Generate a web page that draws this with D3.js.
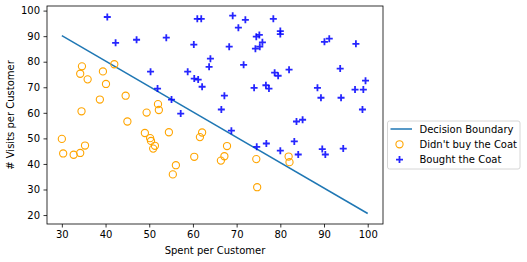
<!DOCTYPE html>
<html>
<head>
<meta charset="utf-8">
<script src="https://cdn.jsdelivr.net/npm/d3@7"></script>
<style>
  body { margin: 0; background: #fff; }
  svg { font-family: "DejaVu Sans", sans-serif; }
</style>
</head>
<body>
<svg id="chart" width="527" height="262"></svg>
<script>
// didn't buy the coat
const noSpent  = [34.6, 34.2, 35.9, 39.4, 42.0, 40.1, 38.7, 44.6, 34.5, 49.4, 52.0, 52.2,
                  45.0, 30.0, 30.3, 32.7, 34.2, 35.3, 49.0, 50.2, 50.4, 51.3, 50.9, 54.5,
                  62.1, 61.6, 67.8, 60.3, 56.1, 55.4, 67.2, 66.4, 74.5, 74.7, 81.9, 82.1];
const noVisits = [78.2, 75.3, 73.1, 76.2, 79.0, 71.3, 65.2, 66.7, 60.6, 60.1, 63.4, 61.1,
                  56.6, 49.8, 44.1, 43.6, 44.3, 47.2, 52.1, 50.1, 49.0, 47.1, 46.0, 52.4,
                  52.3, 50.5, 47.0, 42.8, 39.5, 35.9, 43.0, 41.3, 41.9, 30.9, 42.9, 40.7];

// bought the coat
const yesSpent  = [40.4, 42.3, 47.1, 50.3, 51.9, 53.9, 60.2, 58.8, 60.3, 61.2, 55.1, 57.2,
                   61.0, 61.9, 69.1, 72.0, 70.4, 68.3, 74.5, 75.2, 75.9, 74.3, 75.3, 64.0,
                   63.7, 71.6, 62.1, 67.2, 66.5, 74.0, 76.7, 77.4, 78.4, 80.0, 80.0, 90.1,
                   91.2, 97.3, 82.0, 78.7, 79.5, 93.7, 99.5, 88.5, 97.1, 99.0, 89.3, 93.9,
                   98.8, 83.7, 85.1, 83.2, 80.0, 84.1, 89.6, 90.3, 94.4, 68.8, 74.6, 76.8];
const yesVisits = [97.5, 87.4, 88.6, 76.1, 69.5, 89.4, 86.7, 76.1, 73.4, 73.0, 65.2, 59.7,
                   96.8, 96.8, 98.0, 96.4, 93.3, 85.9, 89.8, 90.5, 87.6, 85.1, 85.9, 81.2,
                   78.0, 78.8, 70.2, 66.7, 61.3, 69.8, 70.8, 69.5, 96.8, 92.0, 90.8, 87.8,
                   89.0, 87.0, 76.9, 75.7, 74.5, 77.3, 72.6, 69.8, 69.1, 69.1, 65.9, 65.9,
                   61.3, 56.6, 57.3, 48.8, 45.2, 43.7, 45.8, 43.7, 46.0, 53.0, 46.7, 48.0];

// decision boundary end points
const boundarySpent  = [30, 100];
const boundaryVisits = [90.2, 20.6];

const xTicks = [30, 40, 50, 60, 70, 80, 90, 100];
const yTicks = [20, 30, 40, 50, 60, 70, 80, 90, 100];

const svg = d3.select("#chart");
const margin = { top: 6, right: 144, bottom: 38, left: 47 };
const width = 527, height = 262;

const x = d3.scaleLinear()
  .domain([26.6, 103.5])
  .range([margin.left, width - margin.right]);

const y = d3.scaleLinear()
  .domain([16.5, 101.8])
  .range([height - margin.bottom, margin.top]);

const no = noSpent.map((s, i) => ({ s, v: noVisits[i] }));
const yes = yesSpent.map((s, i) => ({ s, v: yesVisits[i] }));
const boundary = boundarySpent.map((s, i) => ({ s, v: boundaryVisits[i] }));

const plusPath = "M-3.5,0H3.5M0,-3.5V3.5";

// axes
const xAxis = svg.append("g")
  .attr("transform", `translate(0,${height - margin.bottom})`)
  .call(d3.axisBottom(x).tickValues(xTicks).tickSize(3.5).tickPadding(3.5));

const yAxis = svg.append("g")
  .attr("transform", `translate(${margin.left},0)`)
  .call(d3.axisLeft(y).tickValues(yTicks).tickSize(3.5).tickPadding(3.5));

[xAxis, yAxis].forEach(a => {
  a.select(".domain").remove();
  a.selectAll("text").attr("font-size", "10px").attr("fill", "#000")
    .attr("font-family", "DejaVu Sans, sans-serif");
  a.selectAll("line").attr("stroke", "#000").attr("stroke-width", 0.8);
});

// decision boundary
svg.append("path")
  .datum(boundary)
  .attr("fill", "none")
  .attr("stroke", "#1f77b4")
  .attr("stroke-width", 1.5)
  .attr("d", d3.line().x(d => x(d.s)).y(d => y(d.v)));

// didn't buy
svg.append("g")
  .selectAll("circle")
  .data(no)
  .enter()
  .append("circle")
  .attr("cx", d => x(d.s))
  .attr("cy", d => y(d.v))
  .attr("r", 3.6)
  .attr("fill", "none")
  .attr("stroke", "orange")
  .attr("stroke-width", 1.1);

// bought
svg.append("g")
  .selectAll("path")
  .data(yes)
  .enter()
  .append("path")
  .attr("transform", d => `translate(${x(d.s)},${y(d.v)})`)
  .attr("d", plusPath)
  .attr("stroke", "blue")
  .attr("stroke-opacity", 0.85)
  .attr("stroke-width", 1.8);

// frame
svg.append("rect")
  .attr("x", margin.left)
  .attr("y", margin.top)
  .attr("width", width - margin.left - margin.right)
  .attr("height", height - margin.top - margin.bottom)
  .attr("fill", "none")
  .attr("stroke", "#000")
  .attr("stroke-width", 0.8);

// axis labels
svg.append("text")
  .attr("x", (margin.left + width - margin.right) / 2)
  .attr("y", 254)
  .attr("text-anchor", "middle")
  .attr("font-size", "10px")
  .text("Spent per Customer");

svg.append("text")
  .attr("transform", `translate(14,${(margin.top + height - margin.bottom) / 2}) rotate(-90)`)
  .attr("text-anchor", "middle")
  .attr("font-size", "10px")
  .text("# Visits per Customer");

// legend
const legend = svg.append("g").attr("transform", "translate(387.5,121)");
legend.append("rect")
  .attr("width", 132.5)
  .attr("height", 48)
  .attr("rx", 2)
  .attr("fill", "#fff")
  .attr("stroke", "#ccc")
  .attr("stroke-width", 0.8);

const rows = ["Decision Boundary", "Didn't buy the Coat", "Bought the Coat"];
legend.selectAll("text.item")
  .data(rows)
  .enter()
  .append("text")
  .attr("class", "item")
  .attr("x", 32)
  .attr("y", (d, i) => 11.6 + i * 15.3)
  .attr("font-size", "10px")
  .text(d => d);

legend.append("line")
  .attr("x1", 3).attr("x2", 24.5)
  .attr("y1", 8).attr("y2", 8)
  .attr("stroke", "#1f77b4")
  .attr("stroke-width", 1.5);

legend.append("circle")
  .attr("cx", 12).attr("cy", 23.3)
  .attr("r", 3.6)
  .attr("fill", "none")
  .attr("stroke", "orange")
  .attr("stroke-width", 1.1);

legend.append("path")
  .attr("transform", "translate(12,38.6)")
  .attr("d", plusPath)
  .attr("stroke", "blue")
  .attr("stroke-opacity", 0.85)
  .attr("stroke-width", 1.8);
</script>
</body>
</html>
